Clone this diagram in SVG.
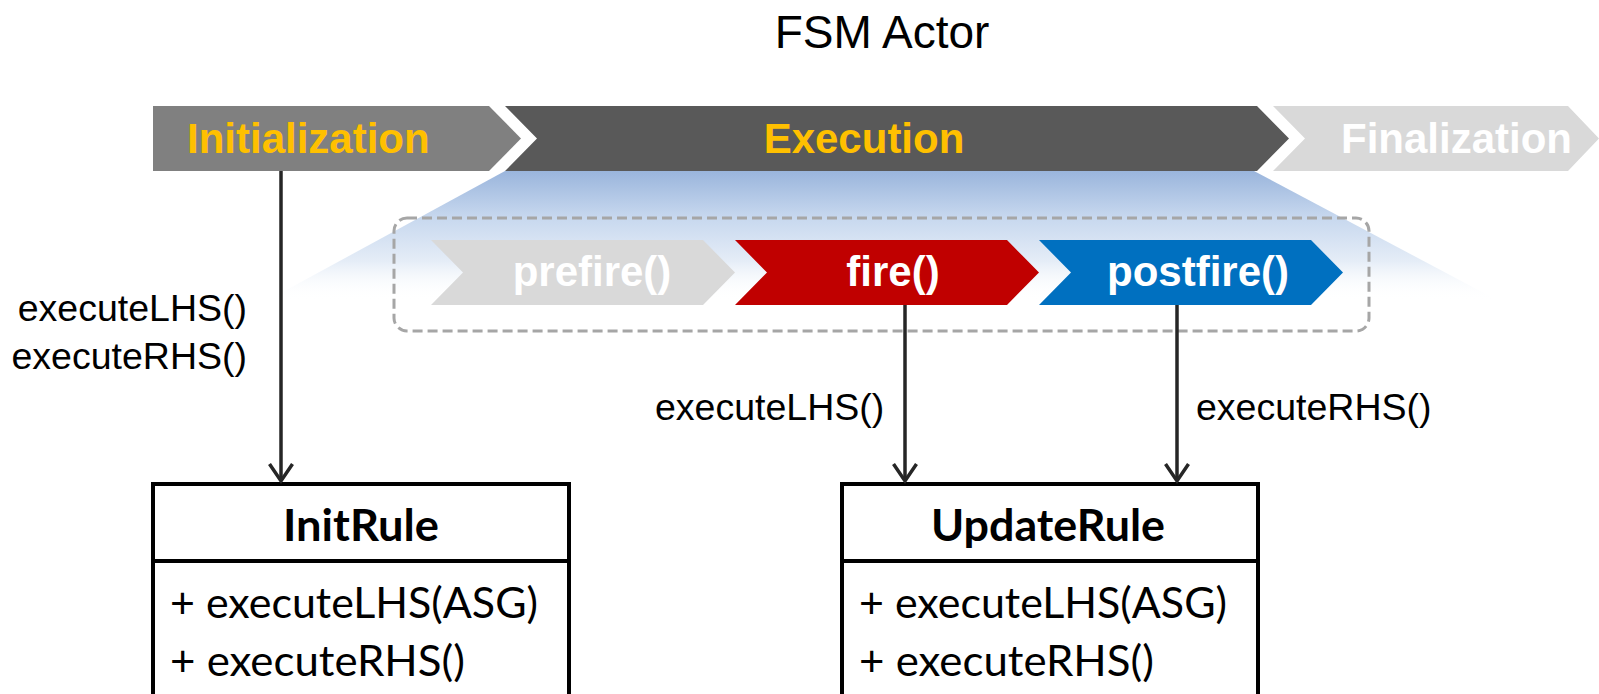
<svg xmlns="http://www.w3.org/2000/svg" width="1599" height="694" viewBox="0 0 1599 694">
  <style>
    .phase { font-family: "Liberation Sans", Arial, sans-serif; font-weight: bold; font-size: 42px; }
    .step { font-family: "Liberation Sans", Arial, sans-serif; font-weight: bold; font-size: 42px; fill: #ffffff; text-anchor: middle; }
    .lbl { font-family: "Liberation Sans", Arial, sans-serif; font-size: 37.5px; fill: #000000; }
    .cls { fill: #ffffff; stroke: #000000; stroke-width: 4; }
    .clsName { font-family: Lato, "Open Sans", sans-serif; font-weight: bold; font-size: 44px; fill: #000000; text-anchor: middle; }
    .clsOp { font-family: Lato, "Open Sans", sans-serif; font-size: 42px; fill: #000000; }
    .conn { stroke: #262626; stroke-width: 3.5; fill: none; marker-end: url(#arr); }
  </style>
  <defs>
    <linearGradient id="spot" gradientUnits="userSpaceOnUse" x1="0" y1="171" x2="0" y2="300">
      <stop offset="0" stop-color="#9ab5dc"/>
      <stop offset="0.35" stop-color="#c6d7ee"/>
      <stop offset="0.7" stop-color="#e5edf7"/>
      <stop offset="1" stop-color="#ffffff" stop-opacity="0"/>
    </linearGradient>
    <marker id="arr" markerUnits="userSpaceOnUse" markerWidth="40" markerHeight="40" viewBox="-20 -20 40 40" refX="0" refY="0" orient="auto">
      <path d="M-17,-11.5 L0,0 L-17,11.5" fill="none" stroke="#262626" stroke-width="3.5"/>
    </marker>
  </defs>

  <!-- title -->
  <text x="882" y="48" font-family="Liberation Sans, Arial, sans-serif" font-size="46" text-anchor="middle" fill="#000000">FSM Actor</text>

  <!-- spotlight under the Execution phase -->
  <polygon points="505,171 1254,171 1497,300 268,300" fill="url(#spot)"/>

  <!-- phase bar -->
  <g id="phase-init">
    <polygon points="153,106 489,106 521,138.5 489,171 153,171" fill="#808080"/>
    <text class="phase" x="187" y="153" fill="#ffc000">Initialization</text>
  </g>
  <g id="phase-exec">
    <polygon points="505,106 1257,106 1289,138.5 1257,171 505,171 537,138.5" fill="#595959"/>
    <text class="phase" x="864" y="153" fill="#ffc000" text-anchor="middle">Execution</text>
  </g>
  <g id="phase-final">
    <polygon points="1273,106 1568,106 1599,138.5 1568,171 1273,171 1305,138.5" fill="#d9d9d9"/>
    <text class="phase" x="1341" y="153" fill="#ffffff">Finalization</text>
  </g>

  <!-- iteration frame -->
  <rect id="iteration" x="394" y="218" width="975" height="113" rx="13" ry="13" fill="none" stroke="#a6a6a6" stroke-width="3" stroke-dasharray="10 5"/>

  <g id="step-prefire">
    <polygon points="431,240 703,240 735,272.5 703,305 431,305 463,272.5" fill="#d9d9d9"/>
    <text class="step" x="592" y="286">prefire()</text>
  </g>
  <g id="step-fire">
    <polygon points="735,240 1007,240 1039,272.5 1007,305 735,305 767,272.5" fill="#c00000"/>
    <text class="step" x="893" y="286">fire()</text>
  </g>
  <g id="step-postfire">
    <polygon points="1039,240 1311,240 1343,272.5 1311,305 1039,305 1071,272.5" fill="#0070c0"/>
    <text class="step" x="1198" y="286">postfire()</text>
  </g>

  <!-- rule classes -->
  <g id="InitRule">
    <rect class="cls" x="153" y="484" width="416" height="230"/>
    <line x1="153" y1="561" x2="569" y2="561" stroke="#000000" stroke-width="4"/>
    <text class="clsName" x="361" y="541" textLength="156" lengthAdjust="spacingAndGlyphs">InitRule</text>
    <text class="clsOp" x="170" y="618" textLength="368" lengthAdjust="spacingAndGlyphs">+ executeLHS(ASG)</text>
    <text class="clsOp" x="170" y="676" textLength="295" lengthAdjust="spacingAndGlyphs">+ executeRHS()</text>
  </g>
  <g id="UpdateRule">
    <rect class="cls" x="842" y="484" width="416" height="230"/>
    <line x1="842" y1="561" x2="1258" y2="561" stroke="#000000" stroke-width="4"/>
    <text class="clsName" x="1048" y="541" textLength="234" lengthAdjust="spacingAndGlyphs">UpdateRule</text>
    <text class="clsOp" x="859" y="618" textLength="368" lengthAdjust="spacingAndGlyphs">+ executeLHS(ASG)</text>
    <text class="clsOp" x="859" y="676" textLength="295" lengthAdjust="spacingAndGlyphs">+ executeRHS()</text>
  </g>

  <!-- calls -->
  <g id="connectors">
    <line class="conn" x1="281" y1="171" x2="281" y2="481"/>
    <line class="conn" x1="905" y1="305" x2="905" y2="481"/>
    <line class="conn" x1="1177" y1="305" x2="1177" y2="481"/>
    <text class="lbl" x="247" y="321" text-anchor="end">executeLHS()</text>
    <text class="lbl" x="247" y="369" text-anchor="end">executeRHS()</text>
    <text class="lbl" x="655" y="420">executeLHS()</text>
    <text class="lbl" x="1196" y="420">executeRHS()</text>
  </g>
</svg>
